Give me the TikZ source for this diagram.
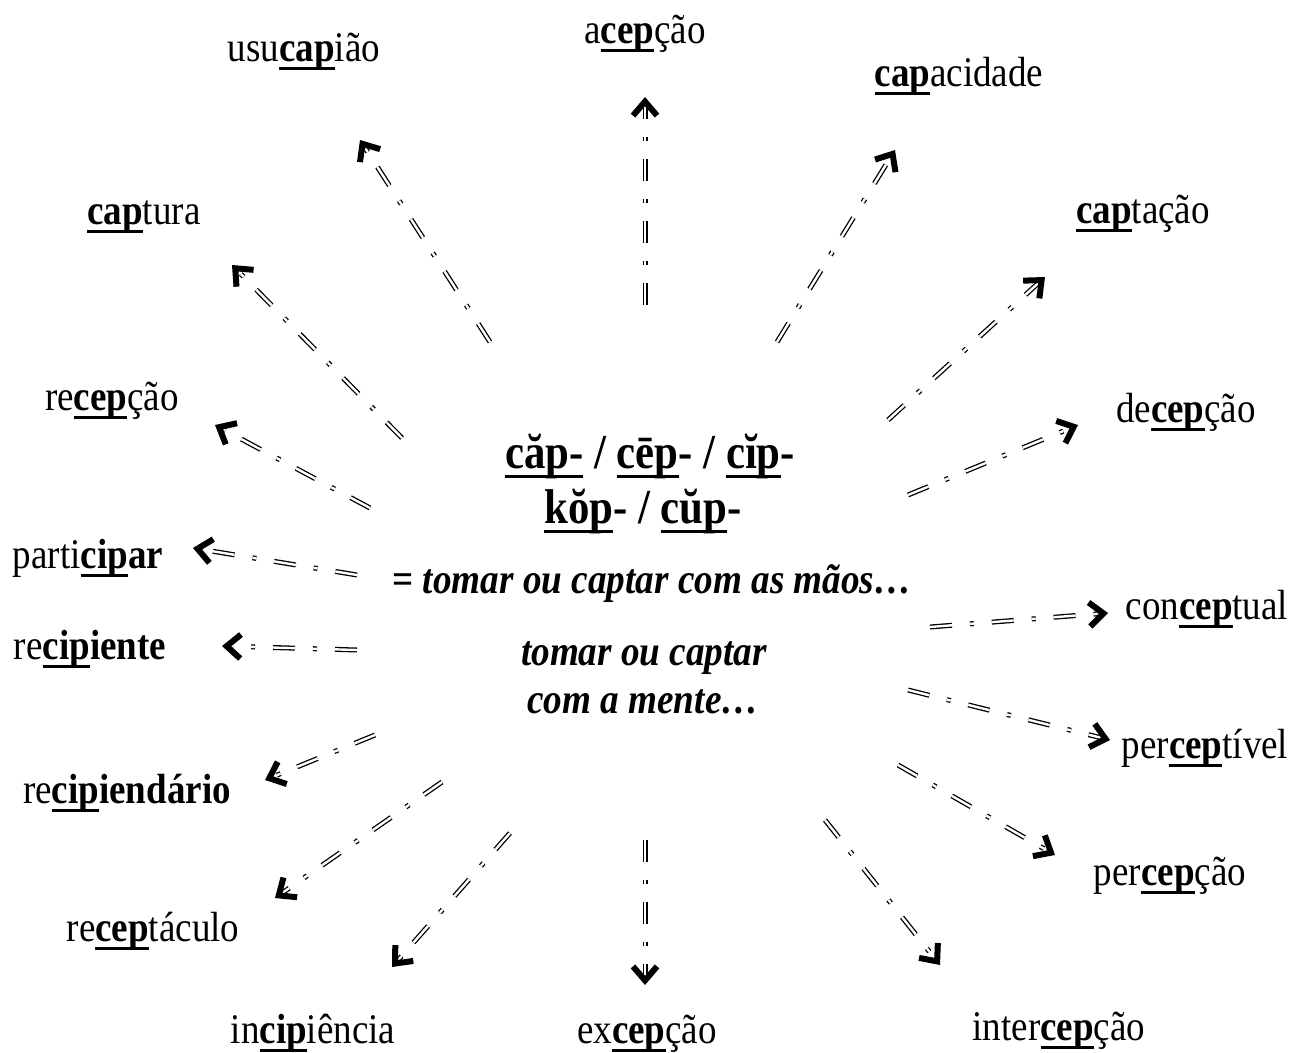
\documentclass[tikz,border=0pt]{standalone}
\usepackage{fontspec}
\setmainfont{Liberation Serif}[FakeStretch=0.877]
\usetikzlibrary{arrows.meta}
\newcommand\myul[1]{\setbox0=\hbox{#1}\rlap{\rule[-0.2em]{\wd0}{0.06em}}\box0\relax}
\newcommand\rt[1]{\myul{\textbf{#1}}}
\tikzset{
  lbl/.style={inner sep=0pt, yshift=-4.5pt, font=\fontsize{21.1}{24}\selectfont, text height=0.7em, text depth=0.25em},
  head/.style={inner sep=0pt, yshift=-4.5pt, font=\fontsize{24.4}{28}\selectfont\bfseries, text height=0.7em, text depth=0.25em},
  mean/.style={inner sep=0pt, yshift=-3pt, font=\fontsize{21.2}{24}\selectfont\bfseries\itshape, text height=0.7em, text depth=0.25em},
  conn/.style={draw=black, double=white, double distance=1.2pt, line width=0.65pt,
    dash pattern=on 11pt off 9pt on 2pt off 9pt,
    -{Straight Barb[length=7pt,width=12pt,line width=3pt]}}
}
\begin{document}
\begin{tikzpicture}[x=0.5pt,y=-0.5pt]
\useasboundingbox (0,0) rectangle (1294,1053);
% centre
\node[head] (h1) at (650,455) {\myul{căp-} / \myul{cēp}- / \myul{cĭp}-};
\node[head] (h2) at (643,510) {\myul{kŏp}- / \myul{cŭp}-};
\node[mean] (m1) at (652,583) {{\upshape =} tomar ou captar com as mãos…};
\node[mean] (m2) at (644,655) {tomar ou captar};
\node[mean] (m3) at (643,703) {com a mente…};
% labels
\node[lbl] (acepcao) at (645,30) {a\rt{cep}ção};
\node[lbl] (usucapiao) at (304,48) {usu\rt{cap}ião};
\node[lbl] (capacidade) at (959,73) {\rt{cap}acidade};
\node[lbl] (captura) at (144,211) {\rt{cap}tura};
\node[lbl] (captacao) at (1143,210) {\rt{cap}tação};
\node[lbl] (recepcao) at (112,397) {re\rt{cep}ção};
\node[lbl] (decepcao) at (1186,409) {de\rt{cep}ção};
\node[lbl] (participar) at (88,555) {parti\rt{cip}\textbf{ar}};
\node[lbl] (recipiente) at (90,646) {re\rt{cip}\textbf{iente}};
\node[lbl] (conceptual) at (1207,606) {con\rt{cep}tual};
\node[lbl] (perceptivel) at (1205,745) {per\rt{cep}tível};
\node[lbl] (recipiendario) at (127,790) {re\rt{cip}\textbf{iendário}};
\node[lbl] (percepcao) at (1170,872) {per\rt{cep}ção};
\node[lbl] (receptaculo) at (153,928) {re\rt{cep}táculo};
\node[lbl] (incipiencia) at (313,1030) {in\rt{cip}iência};
\node[lbl] (excepcao) at (647,1030) {ex\rt{cep}ção};
\node[lbl] (intercepcao) at (1059,1027) {inter\rt{cep}ção};
% connector ends
\coordinate (t1) at (645,305);  \coordinate (e1) at (645,97);
\coordinate (t2) at (490,342);  \coordinate (e2) at (360,140);
\coordinate (t3) at (777,342);  \coordinate (e3) at (895,150);
\coordinate (t4) at (402,438);  \coordinate (e4) at (232,265);
\coordinate (t5) at (888,420);  \coordinate (e5) at (1045,277);
\coordinate (t6) at (370,508);  \coordinate (e6) at (215,425);
\coordinate (t7) at (908,495);  \coordinate (e7) at (1078,425);
\coordinate (t8) at (357,575);  \coordinate (e8) at (193,548);
\coordinate (t9) at (357,650);  \coordinate (e9) at (222,646);
\coordinate (t10) at (930,627); \coordinate (e10) at (1108,613);
\coordinate (t11) at (908,690); \coordinate (e11) at (1110,740);
\coordinate (t12) at (375,735); \coordinate (e12) at (265,780);
\coordinate (t13) at (898,765); \coordinate (e13) at (1055,855);
\coordinate (t14) at (442,782); \coordinate (e14) at (275,898);
\coordinate (t15) at (510,833); \coordinate (e15) at (392,967);
\coordinate (t16) at (645,840); \coordinate (e16) at (645,985);
\coordinate (t17) at (825,820); \coordinate (e17) at (940,965);
\foreach \i in {1,...,17} { \draw[conn] (t\i) -- (e\i); }
\end{tikzpicture}
\end{document}
